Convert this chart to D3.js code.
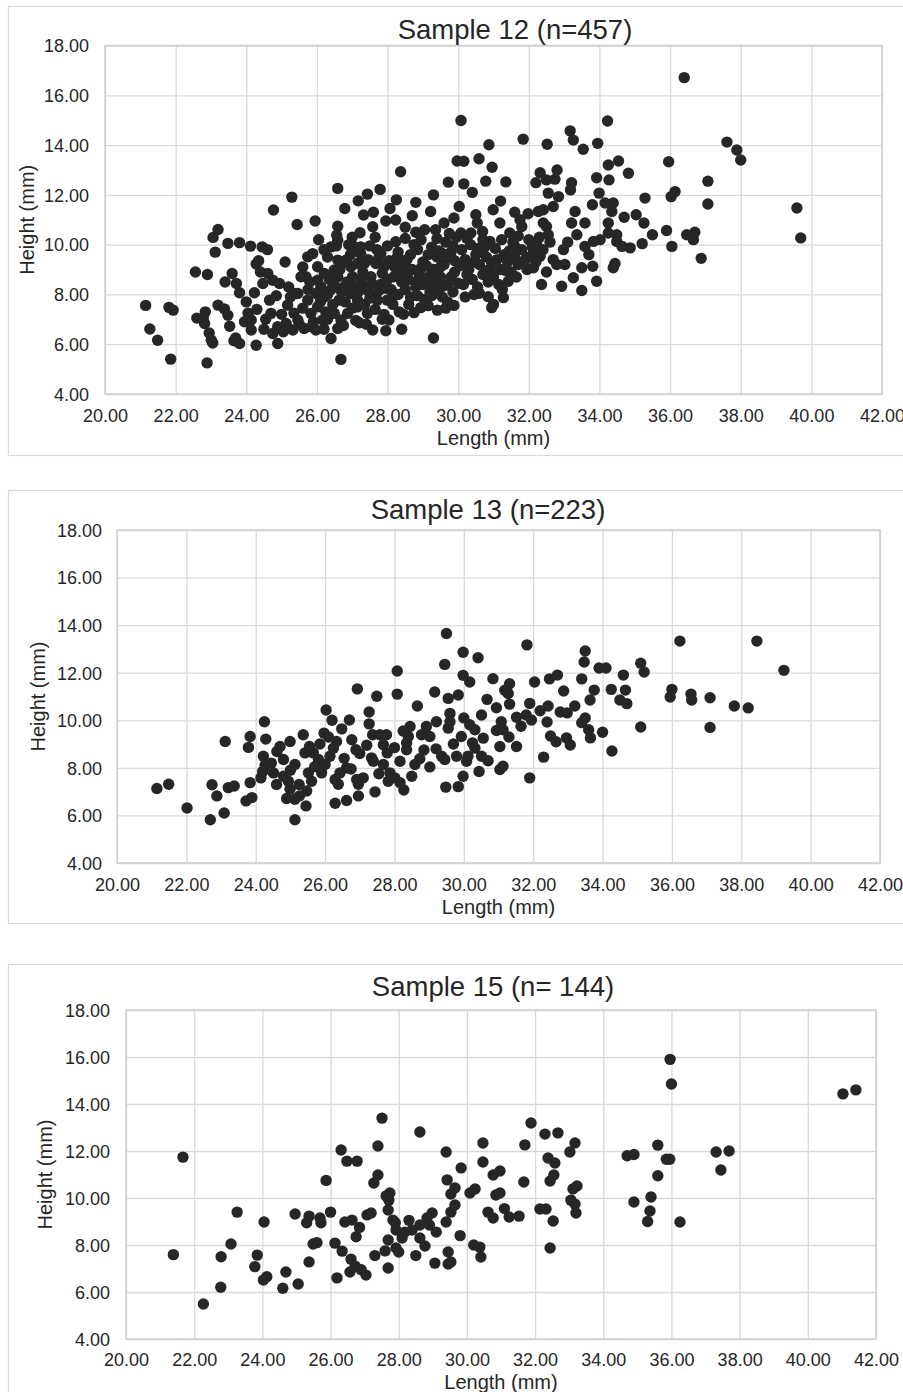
<!DOCTYPE html>
<html><head><meta charset="utf-8">
<script src="https://cdn.jsdelivr.net/npm/d3@7"></script>
<style>body{margin:0;background:#fff;} svg{display:block;font-family:"Liberation Sans",Arial,sans-serif;}</style>
</head><body><svg id="c" width="903" height="1392"></svg>
<script>
const xTickValues = [20,22,24,26,28,30,32,34,36,38,40,42];
const yTickValues = [4,6,8,10,12,14,16,18];
const titles = ["Sample 12 (n=457)", "Sample 13 (n=223)", "Sample 15 (n= 144)"];
const xAxisTitle = "Length (mm)";
const yAxisTitle = "Height (mm)";

const sample12 = [
[21.15,7.56],[21.27,6.61],[21.49,6.16],[21.81,7.48],[21.93,7.37],[21.86,5.40],
[22.56,8.90],[22.90,8.80],[22.89,5.25],[22.84,7.30],[22.82,6.83],[23.01,6.16],[22.78,7.05],[22.95,6.45],[23.05,6.05],
[23.20,7.57],[23.48,7.16],[23.53,6.72],[23.38,7.42],[23.65,6.14],[23.81,6.03],[23.70,6.25],
[23.20,10.61],[23.06,10.29],[23.12,9.70],[23.48,10.05],[23.81,10.08],
[23.60,8.84],[23.72,8.44],[23.81,8.07],[23.95,6.90],
[24.12,9.94],[24.45,9.91],[24.28,9.22],[24.35,9.35],[24.00,7.70],[24.14,6.97],[24.14,6.57],[24.28,5.96],[24.23,8.07],
[24.47,8.44],[24.61,8.84],[24.75,8.57],[24.94,8.44],[24.66,7.77],[24.70,7.24],[24.89,6.70],[24.89,6.03],[24.75,6.43],
[24.77,11.39],[25.29,11.91],[25.44,10.81],[25.95,10.95],
[25.17,7.57],[25.13,6.83],[25.32,6.57],[25.46,6.97],[25.55,8.71],[25.41,8.04],[25.74,7.77],[25.83,7.24],[25.74,9.51],[25.88,9.64],[25.69,8.71],[25.64,6.63],[25.46,8.04],
[24.55,7.00],[24.50,6.60],[24.85,7.95],[25.00,7.20],[25.25,7.90],[25.60,7.45],[25.90,6.90],[25.50,6.80],[24.40,8.90],[25.05,6.50],[25.20,8.30],[25.35,7.25],[25.75,8.20],[25.85,6.70],[24.30,7.40],
[26.02,9.11],[26.02,8.57],[26.21,8.84],[26.11,8.31],[25.97,8.04],[26.21,7.90],[26.02,7.50],[26.16,6.97],[25.97,6.57],[26.40,6.23],
[26.40,9.91],[26.59,10.18],[26.59,9.38],[26.77,9.31],[26.49,8.98],[26.59,8.71],[26.77,8.31],[26.63,7.77],[26.49,7.24],[26.68,6.97],[26.59,6.63],
[26.96,9.11],[27.01,8.71],[27.15,9.24],[27.24,9.64],[27.24,9.91],[26.96,8.04],[27.15,7.77],[27.34,8.31],[27.53,8.71],[27.67,9.24],[27.81,9.64],[27.90,9.11],
[27.20,6.86],[27.58,6.57],[27.95,6.54],[28.04,6.97],[28.33,7.30],[27.43,8.17],[27.71,7.77],[27.99,7.77],[28.18,8.71],[28.28,9.51],[28.23,10.12],[27.15,7.50],[27.43,7.24],[26.87,7.24],
[26.59,12.26],[27.79,12.22],[27.43,12.03],[27.17,11.76],[26.79,11.45],[27.32,11.19],[27.58,10.72],[26.59,10.74],[26.56,10.38],[27.22,10.48],[28.07,11.45],[27.95,10.95],[28.23,10.99],[26.68,5.39],
[26.30,8.00],[26.45,7.60],[26.85,8.50],[27.05,8.30],[27.30,8.90],[27.45,9.40],[27.60,8.00],[27.80,8.40],[27.90,7.20],[28.10,8.20],[28.30,8.00],[27.10,9.90],[26.90,10.00],[26.30,9.50],[26.20,9.80],[27.70,9.80],[28.00,9.95],[28.30,9.70],[26.70,8.10],[27.35,7.60],[26.25,7.30],[28.15,7.60],
[26.35,8.60],[26.80,7.70],[27.55,8.45],[27.85,8.85],[28.05,9.35],[27.00,7.45],[26.50,8.35],[27.65,7.40],[28.40,8.50],[28.35,9.20],[27.25,8.60],[27.75,8.15],
[28.37,12.93],[28.50,10.70],[28.70,11.16],[29.22,11.33],[29.60,10.87],[29.36,10.60],[29.88,11.07],[30.03,11.53],[29.72,12.51],
[29.88,7.56],[29.41,7.37],[28.94,7.47],[28.75,7.27],[29.30,6.25],[28.40,6.60],
[28.50,8.20],[28.60,8.60],[28.70,9.00],[28.80,8.30],[28.90,8.80],[29.00,9.30],[29.10,8.50],[29.20,8.10],[29.30,9.00],[29.40,9.50],[29.50,8.70],[29.60,9.20],[29.70,8.40],[29.80,9.70],[29.90,8.90],
[28.55,9.40],[28.65,7.90],[28.85,9.80],[29.05,7.80],[29.25,9.90],[29.45,8.20],[29.65,10.10],[29.85,8.10],[28.45,8.80],[28.95,10.20],[29.15,9.60],[29.55,7.90],[29.75,9.50],[29.95,10.30],[28.75,10.00],[29.35,8.60],
[28.60,7.60],[28.85,7.95],[29.00,8.40],[29.20,8.75],[29.50,9.10],[29.70,7.70],[29.90,9.35],[28.95,9.05],[29.40,10.25],[29.75,10.45],[28.65,9.60],[29.15,7.55],[29.60,8.35],[28.50,10.25],
[30.08,14.99],[30.87,14.01],[30.59,13.45],[30.96,13.11],[29.97,13.36],[30.16,13.35],[30.16,12.44],[30.78,12.55],[31.35,12.52],[31.84,14.24],
[30.99,11.40],[31.18,10.87],[30.90,10.13],[31.23,10.20],[31.46,10.47],[31.60,9.93],[31.70,9.20],[31.42,8.53],[31.28,7.87],[30.85,7.91],[30.95,7.47],
[30.50,11.20],[30.54,10.87],[30.69,10.53],[30.36,10.47],[30.08,10.47],[31.98,11.24],[31.75,11.00],[31.80,10.73],
[30.10,9.80],[30.20,9.40],[30.30,9.00],[30.40,8.60],[30.50,9.60],[30.60,9.20],[30.70,8.80],[30.80,9.50],[30.90,9.00],[31.00,8.70],[31.10,9.40],[31.20,9.00],[31.30,9.60],[31.40,9.30],[31.50,8.90],[31.60,9.50],[31.80,9.80],
[30.15,8.40],[30.35,10.00],[30.55,8.30],[30.75,9.90],[31.05,9.85],[31.15,8.40],[31.35,8.95],[30.25,8.80],[30.45,9.30],[30.65,9.70],[30.85,8.50],[31.55,10.10],[31.90,9.40],[30.20,7.90],[30.60,8.05],[31.65,8.70],
[32.32,12.89],[32.20,12.49],[32.50,12.60],[32.74,12.63],[32.55,12.07],[33.21,12.49],[33.18,12.20],[32.52,14.03],[33.17,14.57],[33.26,14.20],[33.54,13.83],[33.95,14.07],
[32.84,11.93],[32.69,11.53],[32.41,11.40],[32.27,11.33],
[33.31,11.33],[33.21,10.87],[33.59,10.87],[33.36,10.40],[33.59,9.93],[33.83,10.13],
[33.50,9.07],[33.81,9.13],[33.92,8.53],[33.26,8.67],[32.93,8.33],[33.50,8.16],[32.36,8.40],
[32.98,9.80],[32.69,9.40],[32.79,9.20],[33.02,9.20],
[32.50,10.73],[32.55,10.40],[32.41,10.87],[32.22,10.07],[32.13,9.67],[32.32,9.53],[32.13,9.07],
[32.00,10.20],[32.10,9.90],[32.30,10.30],[32.40,9.80],[32.60,10.10],[32.00,9.50],[32.20,9.30],[31.95,9.00],[32.50,8.90],[33.10,10.10],[33.70,9.60],
[34.23,14.97],[34.25,13.20],[34.54,13.36],[34.82,12.87],[33.92,12.69],[34.27,12.60],[33.99,12.07],[34.16,11.67],[34.39,11.67],[34.35,11.33],[35.29,11.87],[35.96,13.33],[36.03,11.93],[36.14,12.13],
[34.25,10.87],[34.49,10.40],[34.25,10.47],[34.02,10.20],
[35.04,11.20],[35.26,10.87],[35.21,10.04],[34.87,9.87],[34.64,9.93],[34.49,10.13],[35.90,10.57],[36.05,9.93],
[34.44,9.24],[34.39,9.07],
[36.40,16.71],[36.47,10.40],[36.66,10.20],[36.70,10.50],[36.88,9.45],[37.61,14.12],[37.89,13.80],[38.00,13.40],[39.59,11.47],[39.70,10.27],[37.07,12.55],[37.07,11.63],
[25.60,9.10],[25.80,8.50],[26.10,7.70],[26.30,7.00],[26.55,9.95],[26.75,6.75],[26.95,9.60],[27.10,6.95],[27.40,6.80],[27.50,9.95],[27.65,10.30],[27.85,7.00],[28.00,8.60],[28.20,9.10],[28.45,7.20],[28.55,9.05],[28.80,10.50],[29.05,10.60],[29.25,7.95],[29.45,9.75],[29.65,7.45],[29.85,9.95],[30.05,9.15],[30.25,10.25],[30.45,8.00],[30.70,10.20],[30.95,9.25],[31.25,8.20],[31.45,9.75],[31.70,10.35],[26.05,10.20],[26.20,6.60],[27.00,10.30],[27.60,11.30],[28.25,11.80],[28.80,11.70],[29.30,12.00],[30.40,12.10],[31.20,11.75],[31.60,11.30],[24.60,9.80],[25.10,9.30],[24.05,7.25],[23.40,8.50],[22.60,7.05],[33.80,11.60],[34.70,11.10],[35.50,10.40],[32.80,13.00],[31.00,7.60],
[26.40,8.20],[26.65,9.00],[26.85,9.40],[27.15,8.05],[27.35,9.25],[27.50,7.85],[27.75,9.45],[27.95,8.25],[28.15,7.95],[28.35,8.85],[28.60,8.95],[28.85,8.55],[29.10,9.15],[29.30,8.30],[29.55,9.65],[29.80,8.70],[30.00,8.45],[30.30,9.20],[30.55,9.85],[30.80,8.95]
];

const sample13 = [
[21.15,7.13],[21.49,7.31],[22.02,6.31],[22.69,5.82],[23.09,6.10],[22.74,7.29],[22.88,6.82],[23.21,7.17],[23.38,7.24],[23.12,9.11],
[23.79,8.86],[23.84,9.32],[23.84,7.38],[23.72,6.61],[23.89,6.75],[24.25,9.94],[24.29,9.21],[24.22,8.49],[24.27,8.11],[24.15,7.58],[24.51,7.79],
[24.70,8.90],[24.61,8.69],[24.80,8.35],[24.99,9.11],[24.80,7.65],[24.94,7.44],[24.99,7.10],[24.89,6.71],[25.13,6.68],[25.26,6.82],[25.45,6.40],[25.13,5.82],[25.13,8.14],
[25.37,9.39],[25.42,8.63],[25.55,8.90],[25.66,8.63],[25.81,8.35],[25.52,7.79],[25.61,7.44],[25.47,7.03],[25.97,9.46],[26.03,10.43],
[25.90,7.79],[26.00,8.14],[26.14,8.49],[26.24,8.83],[26.33,9.11],[26.29,7.51],[26.43,7.79],[26.62,8.00],[26.38,7.31],[26.29,6.51],[26.62,6.63],[26.96,6.82],
[26.48,9.64],[26.70,10.01],[26.77,9.18],[26.89,8.76],[26.91,7.51],[27.10,7.58],[26.96,7.31],[26.93,11.32],[27.27,10.35],[27.27,9.85],
[27.37,9.39],[27.58,9.39],[27.77,9.39],[27.68,8.97],[27.79,8.63],[27.39,8.28],[27.68,8.14],[27.34,8.42],[27.44,6.99],[27.49,11.01],[28.08,12.07],[28.08,11.10],
[27.87,7.79],[28.01,7.58],[28.16,7.38],[28.27,7.07],[27.82,7.44],[28.16,8.28],[28.35,9.04],[28.45,9.74],[28.40,9.32],[28.35,8.76],[28.66,10.60],
[28.73,8.38],[28.59,8.14],[29.02,8.04],[28.78,9.39],[29.02,9.32],[28.92,9.74],[29.21,9.94],[29.16,11.19],[29.50,13.65],[29.45,12.35],
[29.60,10.29],[29.60,9.94],[29.55,9.67],[29.36,8.49],[29.45,8.35],[29.55,10.92],[29.84,11.06],[29.48,7.19],[29.84,7.21],[29.79,8.49],[29.98,7.65],[29.93,9.32],
[29.98,12.86],[29.98,11.89],[30.17,11.61],[30.12,8.49],[30.08,8.28],[30.32,8.83],[30.17,9.81],[30.32,9.60],[30.51,10.22],[30.56,9.25],[30.51,8.49],[30.41,12.63],[30.44,7.85],[30.67,10.88],[30.84,11.75],
[30.94,10.53],[30.94,9.57],[31.04,8.90],[31.08,9.94],[31.13,9.60],[31.04,7.93],[31.13,8.07],[31.18,11.26],[31.32,11.54],[31.28,11.13],[31.32,10.68],[31.52,10.13],[31.52,8.90],[31.82,13.17],[31.90,7.58],[31.80,10.22],[31.90,10.71],[31.95,10.01],[32.04,11.61],
[32.43,10.60],[32.40,9.93],[32.47,11.74],[32.78,10.35],[32.88,11.23],[32.98,10.31],[32.50,9.34],[32.66,9.10],[32.30,8.45],[32.96,9.26],[33.07,8.96],[33.50,12.91],[33.47,12.45],[33.40,11.74],[33.64,10.85],[33.76,11.27],[33.50,10.10],[33.60,9.60],[33.65,9.26],[33.90,12.20],[34.10,12.20],[34.25,11.30],[34.60,11.90],[34.50,10.85],[34.66,11.27],[34.70,10.70],[35.10,12.40],[35.20,12.03],[35.10,9.72],[34.27,8.71],[36.23,13.33],[36.00,11.30],[35.95,10.98],[36.55,11.10],[36.57,10.85],[37.10,10.95],[37.10,9.70],[37.80,10.60],[38.20,10.52],[38.45,13.33],[39.23,12.10],
[24.45,8.20],[24.60,7.30],[25.00,7.90],[25.25,7.30],[25.70,8.05],[25.85,9.00],[26.10,9.30],[26.55,8.40],[26.75,7.95],[27.00,8.60],[27.20,8.95],[27.55,7.75],[28.00,8.85],[28.25,9.55],[28.50,7.65],[28.85,8.75],[29.20,8.80],[29.70,9.00],[30.00,10.10],[30.25,9.05],[30.70,8.30],[31.30,9.30],[31.65,9.75],[32.20,10.40],[32.70,11.90],[33.20,10.60],[33.40,9.90],[34.00,9.50],[24.20,7.85],[26.20,10.00]
];

const sample15 = [
[21.39,7.59],[21.67,11.74],[22.27,5.49],[22.78,6.20],[22.79,7.50],[23.08,8.04],[23.26,9.40],[23.78,7.08],[23.85,7.57],[24.03,6.51],[24.13,6.65],[24.05,8.98],[24.60,6.16],[24.69,6.85],[25.05,6.34],[24.96,9.32],
[25.37,9.23],[25.69,9.15],[25.72,8.95],[25.49,8.04],[25.37,7.28],[25.87,10.75],[26.13,8.08],[26.34,7.74],[26.31,12.04],[26.48,11.57],[26.78,11.57],[26.19,6.60],[26.57,6.85],[26.72,7.10],[26.42,8.98],[26.63,9.06],[26.85,8.75],[26.75,8.35],
[27.07,9.28],[27.19,9.36],[27.04,6.72],[27.39,12.21],[27.39,10.98],[27.27,10.64],[27.51,13.40],[27.63,10.09],[27.71,9.91],[27.74,10.21],[27.69,9.49],[27.83,9.06],[27.92,8.64],[27.69,8.21],[27.92,7.87],[27.69,7.02],
[28.10,8.30],[28.18,8.55],[28.39,8.64],[28.62,12.81],[28.62,8.85],[28.62,8.30],[28.77,7.96],[28.98,9.36],[28.83,9.15],[29.06,7.23],[29.39,8.98],[29.45,7.70],[29.45,7.19],[29.53,7.28],[29.39,11.96],[29.42,10.77],[29.53,10.17],[29.65,10.43],[29.53,9.40],[29.65,9.70],[29.83,11.28],
[30.09,10.21],[30.24,10.38],[30.38,7.91],[30.41,7.49],[30.47,12.34],[30.47,11.53],[30.62,9.40],[30.77,9.15],[30.77,10.98],[30.97,11.15],[30.85,10.13],[30.97,10.21],[31.24,9.19],[31.53,9.23],[31.70,12.26],[31.67,10.68],[31.88,13.19],
[32.14,9.53],[32.32,9.53],[32.29,12.72],[32.67,12.77],[32.38,11.70],[32.44,10.72],[32.55,10.98],[32.53,9.02],[32.44,7.87],[32.58,11.49],[33.17,12.34],[33.02,11.96],[33.11,10.38],[33.23,10.51],[33.05,9.91],[33.17,9.74],[33.20,9.36],
[34.70,11.80],[34.90,11.85],[34.90,9.83],[35.30,9.00],[35.37,9.45],[35.40,10.04],[35.60,10.95],[35.60,12.25],[35.85,11.65],[35.95,11.65],[36.00,14.85],[35.96,15.90],[36.25,8.98],[37.31,11.96],[37.45,11.19],[37.69,12.00],[41.03,14.43],[41.41,14.60],
[25.30,8.95],[26.00,9.40],[26.60,7.40],[27.30,7.55],[27.90,8.95],[28.30,9.05],[28.50,7.55],[29.10,8.55],[29.80,8.40],[30.20,8.00],[31.10,9.55],[26.90,6.95],[27.60,7.75],[28.00,7.70],[28.90,8.85],[25.60,8.10]
];

const panels = [
  {title: titles[0], data: sample12, frame:{x:8.5,y:6.5,w:1000,h:449}, plot:{l:105,r:882,t:45.5,b:394}, titleX:515, titleY:39, yTitleX:27, xLabelY:416, xTitleY:438, yLabelX:89},
  {title: titles[1], data: sample13, frame:{x:8.5,y:490.5,w:1000,h:433}, plot:{l:117,r:880,t:530,b:863}, titleX:488, titleY:519, yTitleX:38, xLabelY:885, xTitleY:907, yLabelX:102},
  {title: titles[2], data: sample15, frame:{x:8.5,y:964.5,w:1000,h:600}, plot:{l:126,r:876,t:1010,b:1339}, titleX:493, titleY:996, yTitleX:45, xLabelY:1360, xTitleY:1382, yLabelX:110}
];

const svg = d3.select("#c");
svg.append("rect").attr("width",903).attr("height",1392).attr("fill","#fff");
const textColor = "#262626";
const gridColor = "#d9d9d9";

panels.forEach(p => {
  const g = svg.append("g");
  g.append("rect").attr("x",p.frame.x).attr("y",p.frame.y).attr("width",p.frame.w).attr("height",p.frame.h)
    .attr("fill","#fff").attr("stroke","#d9d9d9").attr("stroke-width",1.2);
  const x = d3.scaleLinear().domain([20,42]).range([p.plot.l,p.plot.r]);
  const y = d3.scaleLinear().domain([4,18]).range([p.plot.b,p.plot.t]);

  const xg = g.append("g").attr("transform",`translate(0,${p.plot.b})`)
    .call(d3.axisBottom(x).tickValues(xTickValues).tickSize(-(p.plot.b-p.plot.t)).tickFormat(d3.format(".2f")));
  xg.select(".domain").remove();
  xg.selectAll(".tick line").attr("stroke",gridColor).attr("stroke-width",1.3);
  xg.selectAll(".tick text").attr("fill",textColor).attr("font-size",18).attr("y",p.xLabelY-p.plot.b).attr("dy","0.35em")
    .attr("font-family",'"Liberation Sans",Arial,sans-serif');

  const yg = g.append("g").attr("transform",`translate(${p.plot.l},0)`)
    .call(d3.axisLeft(y).tickValues(yTickValues).tickSize(-(p.plot.r-p.plot.l)).tickFormat(d3.format(".2f")));
  yg.select(".domain").remove();
  yg.selectAll(".tick line").attr("stroke",gridColor).attr("stroke-width",1.3);
  yg.selectAll(".tick text").attr("fill",textColor).attr("font-size",18).attr("x",p.yLabelX-p.plot.l).attr("dy","0.35em")
    .attr("font-family",'"Liberation Sans",Arial,sans-serif');

  g.append("rect").attr("x",p.plot.l).attr("y",p.plot.t).attr("width",p.plot.r-p.plot.l).attr("height",p.plot.b-p.plot.t)
    .attr("fill","none").attr("stroke","#cfcfcf").attr("stroke-width",1.5);

  g.append("g").selectAll("circle").data(p.data).join("circle")
    .attr("cx",d=>x(d[0])).attr("cy",d=>y(d[1])).attr("r",5.7).attr("fill","#262626");

  g.append("text").attr("x",p.titleX).attr("y",p.titleY).attr("text-anchor","middle")
    .attr("font-size",27.5).attr("fill",textColor).text(p.title);
  g.append("text").attr("x",(p.plot.l+p.plot.r)/2).attr("y",p.xTitleY).attr("text-anchor","middle").attr("dy","0.35em")
    .attr("font-size",20).attr("fill",textColor).text(xAxisTitle);
  g.append("text").attr("transform",`translate(${p.yTitleX},${(p.plot.t+p.plot.b)/2}) rotate(-90)`).attr("text-anchor","middle").attr("dy","0.35em")
    .attr("font-size",20).attr("fill",textColor).text(yAxisTitle);
});
</script></body></html>
